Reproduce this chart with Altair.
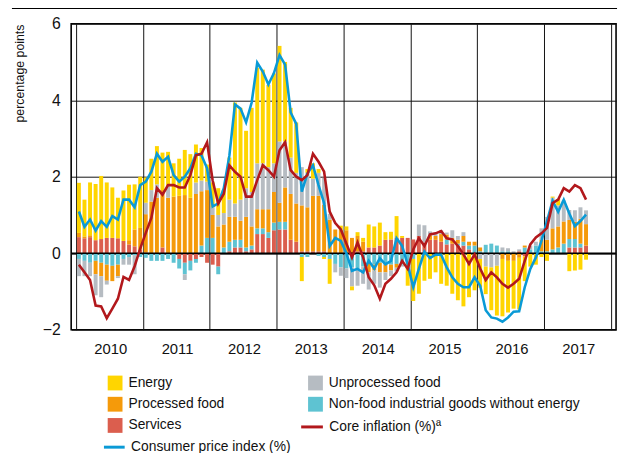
import altair as alt
import pandas as pd

FONT = "Liberation Sans, Arial, sans-serif"

# month index 0 = Jan 2010 ... 91 = Aug 2017
services = [0.42, 0.39, 0.42, 0.34, 0.37, 0.40, 0.40, 0.39, 0.32, 0.23, 0.18, 0.10,
            0.02, 0.00, 0.00, 0.15, 0.00, 0.00, -0.15, -0.25, -0.20, -0.15, -0.10, -0.25,
            -0.30, -0.35, 0.00, 0.05, 0.15, 0.15, 0.05, 0.10, 0.50, 0.50, 0.40, 0.60,
            0.62, 0.62, 0.35, 0.30, 0.05, 0.05, 0.05, 0.05, 0.05, 0.00, 0.00, 0.00,
            0.00, 0.00, 0.05, 0.05, 0.15, 0.15, 0.20, 0.35, 0.36, 0.40, 0.40, 0.40,
            0.36, 0.45, 0.28, 0.35, 0.35, 0.30, 0.23, 0.25, 0.20, 0.20, 0.10, 0.00,
            0.00, 0.00, 0.00, 0.00, 0.00, 0.00, 0.00, 0.05, -0.08, 0.00, 0.00, 0.00,
            0.00, 0.00, 0.00, 0.00, 0.15, 0.15, 0.15, 0.20]
nonfood = [-0.15, -0.20, -0.25, -0.20, -0.25, -0.30, -0.33, -0.30, -0.15, -0.10, -0.05, -0.10,
           -0.12, -0.20, -0.20, -0.20, -0.15, -0.25, -0.25, -0.30, -0.25, -0.10, 0.20, 0.40,
           0.40, -0.20, 0.15, 0.25, 0.20, 0.20, 0.10, 0.10, 0.15, 0.15, 0.15, 0.20,
           0.20, 0.20, 0.00, 0.00, -0.10, -0.10, 0.00, -0.07, -0.10, -0.15, -0.28, -0.37,
           -0.40, -0.37, -0.40, -0.35, -0.25, -0.30, -0.25, -0.30, -0.30, -0.28, -0.30, -0.20,
           -0.15, 0.00, 0.00, 0.00, 0.00, 0.00, 0.13, 0.00, 0.05, 0.10, 0.10, 0.20,
           0.05, 0.22, 0.25, 0.20, 0.05, 0.05, 0.00, 0.00, 0.15, 0.10, 0.20, 0.05,
           0.05, 0.10, 0.15, 0.25, 0.22, 0.22, 0.10, 0.00]
processed = [0.11, 0.05, 0.05, -0.35, -0.35, -0.42, -0.40, -0.30, 0.00, 0.11, 0.44, 0.56,
             1.00, 1.35, 1.45, 1.50, 1.45, 1.48, 1.50, 1.52, 1.45, 1.55, 1.42, 1.25,
             0.60, 0.70, 0.60, 0.65, 0.60, 0.50, 0.80, 0.50, 0.50, 0.50, 0.60, 0.80,
             0.50, 0.90, 1.20, 1.00, 1.20, 1.15, 1.45, 1.45, 1.22, 0.88, 0.62, 0.62,
             0.60, 0.40, 0.40, 0.25, -0.25, -0.15, -0.25, -0.20, -0.15, -0.10, 0.00, 0.00,
             0.00, 0.00, 0.00, 0.12, 0.10, 0.20, 0.13, 0.15, 0.10, 0.15, 0.10, 0.10,
             0.10, 0.00, 0.00, 0.00, -0.15, -0.20, -0.20, -0.12, 0.05, 0.00, 0.00, 0.30,
             0.30, 0.55, 0.55, 0.58, 0.50, 0.45, 0.65, 0.56]
unprocessed = [-0.45, -0.40, -0.35, -0.55, -0.55, -0.10, 0.00, -0.05, -0.15, -0.20, -0.50, 0.00,
               0.30, 0.30, 0.35, 0.00, 0.30, 0.00, 0.00, -0.15, 0.00, 0.30, 0.28, 0.22,
               0.20, 0.30, 0.30, 0.45, 0.35, 0.55, 0.75, 0.90, 1.20, 1.20, 1.10, 0.75,
               1.60, 1.20, 0.95, 0.80, 1.00, 0.90, 0.45, 0.60, 0.70, 0.15, -0.22, -0.22,
               -0.25, -0.50, -0.45, -0.45, -0.45, -0.35, -0.40, -0.20, -0.15, -0.10, -0.05, -0.05,
               0.00, 0.30, 0.45, 0.10, 0.05, 0.10, 0.05, 0.20, 0.10, 0.10, 0.00, 0.00,
               -0.15, -0.35, -0.37, -0.33, 0.10, 0.08, 0.05, 0.05, 0.00, 0.10, 0.10, 0.30,
               0.60, 0.80, 0.55, 0.55, 0.26, 0.30, 0.30, 0.36]
energy = [1.31, 0.96, 1.38, 1.47, 1.65, 1.45, 1.32, 1.06, 1.32, 1.45, 1.18, 1.34,
          0.66, 0.82, 1.00, 0.98, 0.90, 0.87, 0.97, 1.18, 1.14, 0.99, 0.85, 0.45,
          0.65, 0.70, 0.60, 1.10, 2.64, 2.40, 1.50, 2.20, 2.50, 2.45, 2.15, 2.35,
          2.50, 2.08, 1.30, 1.32, -0.63, 0.10, 0.40, 0.10, -0.05, -0.65, 0.00, 0.10,
          0.10, -0.10, 0.10, 0.10, 0.60, 0.55, 0.60, 0.20, 0.20, 0.57, 0.05, -0.60,
          -1.10, -1.06, -0.72, -0.67, -0.50, -0.80, -0.85, -1.06, -1.23, -1.39, -1.15, -0.97,
          -0.75, -0.72, -1.12, -1.30, -1.50, -1.35, -1.25, -1.35, -0.65, -0.35, -0.30, -0.10,
          -0.20, 0.03, 0.17, 0.00, -0.47, -0.45, -0.43, -0.17]
cpi = [1.09, 0.69, 0.88, 0.59, 0.84, 0.69, 0.97, 0.88, 1.40, 1.40, 1.20, 1.78,
       1.87, 2.13, 2.60, 2.39, 2.52, 2.04, 1.87, 2.00, 2.22, 2.60, 2.56, 2.22,
       1.22, 1.30, 1.70, 2.55, 3.89, 3.78, 3.42, 3.94, 4.98, 4.75, 4.41, 4.71,
       5.18, 4.93, 3.68, 3.38, 1.61, 2.08, 2.30, 1.78, 1.31, 0.19, 0.40, 0.32,
       0.00, -0.46, -0.41, -0.50, -0.20, -0.40, -0.13, -0.29, -0.20, 0.39, 0.19, -0.30,
       -0.89, -0.41, 0.04, -0.13, -0.04, -0.04, -0.37, -0.63, -0.80, -0.89, -0.89, -0.63,
       -0.85, -1.49, -1.68, -1.71, -1.79, -1.68, -1.53, -1.52, -0.89, -0.41, -0.11, 0.32,
       0.84, 1.37, 1.08, 1.40, 1.04, 0.71, 0.84, 1.01]
core = [-0.30, -0.50, -0.70, -1.37, -1.39, -1.70, -1.45, -1.19, -0.62, -0.70, -0.34, 0.12,
        0.53, 0.92, 1.70, 1.53, 1.78, 1.78, 1.72, 1.72, 2.04, 2.56, 2.60, 2.90,
        1.90, 1.30, 1.55, 2.30, 2.13, 2.00, 1.48, 1.48, 1.91, 2.30, 2.17, 2.00,
        2.69, 2.90, 2.17, 2.00, 1.91, 2.04, 2.60, 2.39, 2.13, 1.09, 0.79, 0.62,
        0.25, -0.11, 0.28, -0.11, -0.63, -0.84, -1.19, -0.80, -0.67, -0.50, -0.20, -0.41,
        0.10, 0.39, 0.19, 0.49, 0.52, 0.58, 0.39, 0.36, 0.19, -0.03, -0.28, -0.03,
        -0.40, -0.70, -0.50, -0.63, -0.80, -0.90, -0.80, -0.67, -0.20, 0.23, 0.41, 0.52,
        0.66, 1.31, 1.40, 1.70, 1.61, 1.78, 1.70, 1.40]

first_year = 2010
year_ticks = list(range(0, 97, 12))
y_ticks = list(range(-2, 7))

bar_series = {
    "Services": services,
    "Non-food industrial goods without energy": nonfood,
    "Processed food": processed,
    "Unprocessed food": unprocessed,
    "Energy": energy,
}
stack_order = list(bar_series.keys())
# legend fills column by column: left column first, then right column
legend_order = ["Energy", "Processed food", "Services",
                "Unprocessed food", "Non-food industrial goods without energy"]
bar_colors = {"Energy": "#FFD500", "Unprocessed food": "#B6BCC2", "Processed food": "#F59A0A",
              "Non-food industrial goods without energy": "#5EC3D2", "Services": "#DB5E4E"}

rows = []
for name, vals in bar_series.items():
    for i, v in enumerate(vals):
        rows.append({"m": i + 0.5, "series": name, "value": v, "ord": stack_order.index(name)})
bars_df = pd.DataFrame(rows)

cpi_df = pd.DataFrame({"m": [i + 0.5 for i in range(len(cpi))], "value": cpi,
                       "series": "Consumer price index (%)"})
core_df = pd.DataFrame({"m": [i + 0.5 for i in range(len(core))], "value": core,
                        "series": "Core inflation (%)\u00aa"})

x_scale = alt.Scale(domain=[0, 96], nice=False, zero=False)
y_scale = alt.Scale(domain=[-2, 6], nice=False, zero=False)

x_axis = alt.Axis(values=year_ticks, labelExpr=f"datum.value < 96 ? toString({first_year} + datum.value / 12) : ''",
                  labelOffset=34.5, grid=True, gridColor="#111", gridWidth=1, ticks=False, domain=False,
                  labelFont=FONT, labelFontSize=15, labelColor="#111", labelPadding=12,
                  labelOverlap=False, labelBound=False, title=None)
y_axis = alt.Axis(values=y_ticks, grid=True, gridColor="#111", gridWidth=1, ticks=False, domain=False,
                  labelFont=FONT, labelFontSize=16, labelColor="#111", labelPadding=11,
                  title="percentage points", titleFont=FONT, titleFontSize=12.5, titleFontWeight="normal",
                  titleColor="#111", titleAngle=270, titleX=-52, titleY=50,
                  titleAlign="center", titleBaseline="middle")

legend_common = dict(labelFont=FONT, labelFontSize=14, labelColor="#111", labelLimit=400,
                     padding=0, title=None)

bars = alt.Chart(bars_df).mark_bar(size=4).encode(
    x=alt.X("m:Q", scale=x_scale, axis=x_axis),
    y=alt.Y("value:Q", stack="zero", scale=y_scale, axis=y_axis),
    color=alt.Color("series:N",
                    scale=alt.Scale(domain=legend_order, range=[bar_colors[s] for s in legend_order]),
                    legend=alt.Legend(orient="none", legendX=37, legendY=356.5, columns=2,
                                      symbolType="square", symbolSize=225, symbolStrokeWidth=0,
                                      labelOffset=6, columnPadding=84, rowPadding=6.5,
                                      **legend_common)),
    order=alt.Order("ord:Q"),
)

zero = alt.Chart(pd.DataFrame({"value": [0]})).mark_rule(color="#000", strokeWidth=1.6).encode(
    y=alt.Y("value:Q", scale=y_scale))

cpi_line = alt.Chart(cpi_df).mark_line(strokeWidth=2.6).encode(
    x=alt.X("m:Q", scale=x_scale),
    y=alt.Y("value:Q", scale=y_scale),
    color=alt.Color("series:N", scale=alt.Scale(range=["#0A9AD6"]),
                    legend=alt.Legend(orient="none", legendX=31.7, legendY=417,
                                      symbolType="stroke", symbolSize=441, symbolStrokeWidth=3,
                                      labelOffset=5, **legend_common)),
)
core_line = alt.Chart(core_df).mark_line(strokeWidth=2.6).encode(
    x=alt.X("m:Q", scale=x_scale),
    y=alt.Y("value:Q", scale=y_scale),
    color=alt.Color("series:N", scale=alt.Scale(range=["#B2181C"]),
                    legend=alt.Legend(orient="none", legendX=231.5, legendY=396,
                                      symbolType="stroke", symbolSize=484, symbolStrokeWidth=3,
                                      labelOffset=5, **legend_common)),
)

top_rule = alt.Chart(pd.DataFrame({"value": [0]})).mark_rule(color="#000", strokeWidth=1.5, clip=False).encode(
    x=alt.value(-60), x2=alt.value(553), y=alt.value(-15.7))

chart = alt.layer(bars, zero, cpi_line, core_line, top_rule).resolve_scale(
    color="independent"
).properties(
    width=552, height=310, autosize="none",
    padding={"left": 64, "top": 13, "right": 4, "bottom": 122},
).configure_view(stroke="#000", strokeWidth=1.6)

chart.save("out.html", embed_options={"renderer": "svg", "actions": False})
